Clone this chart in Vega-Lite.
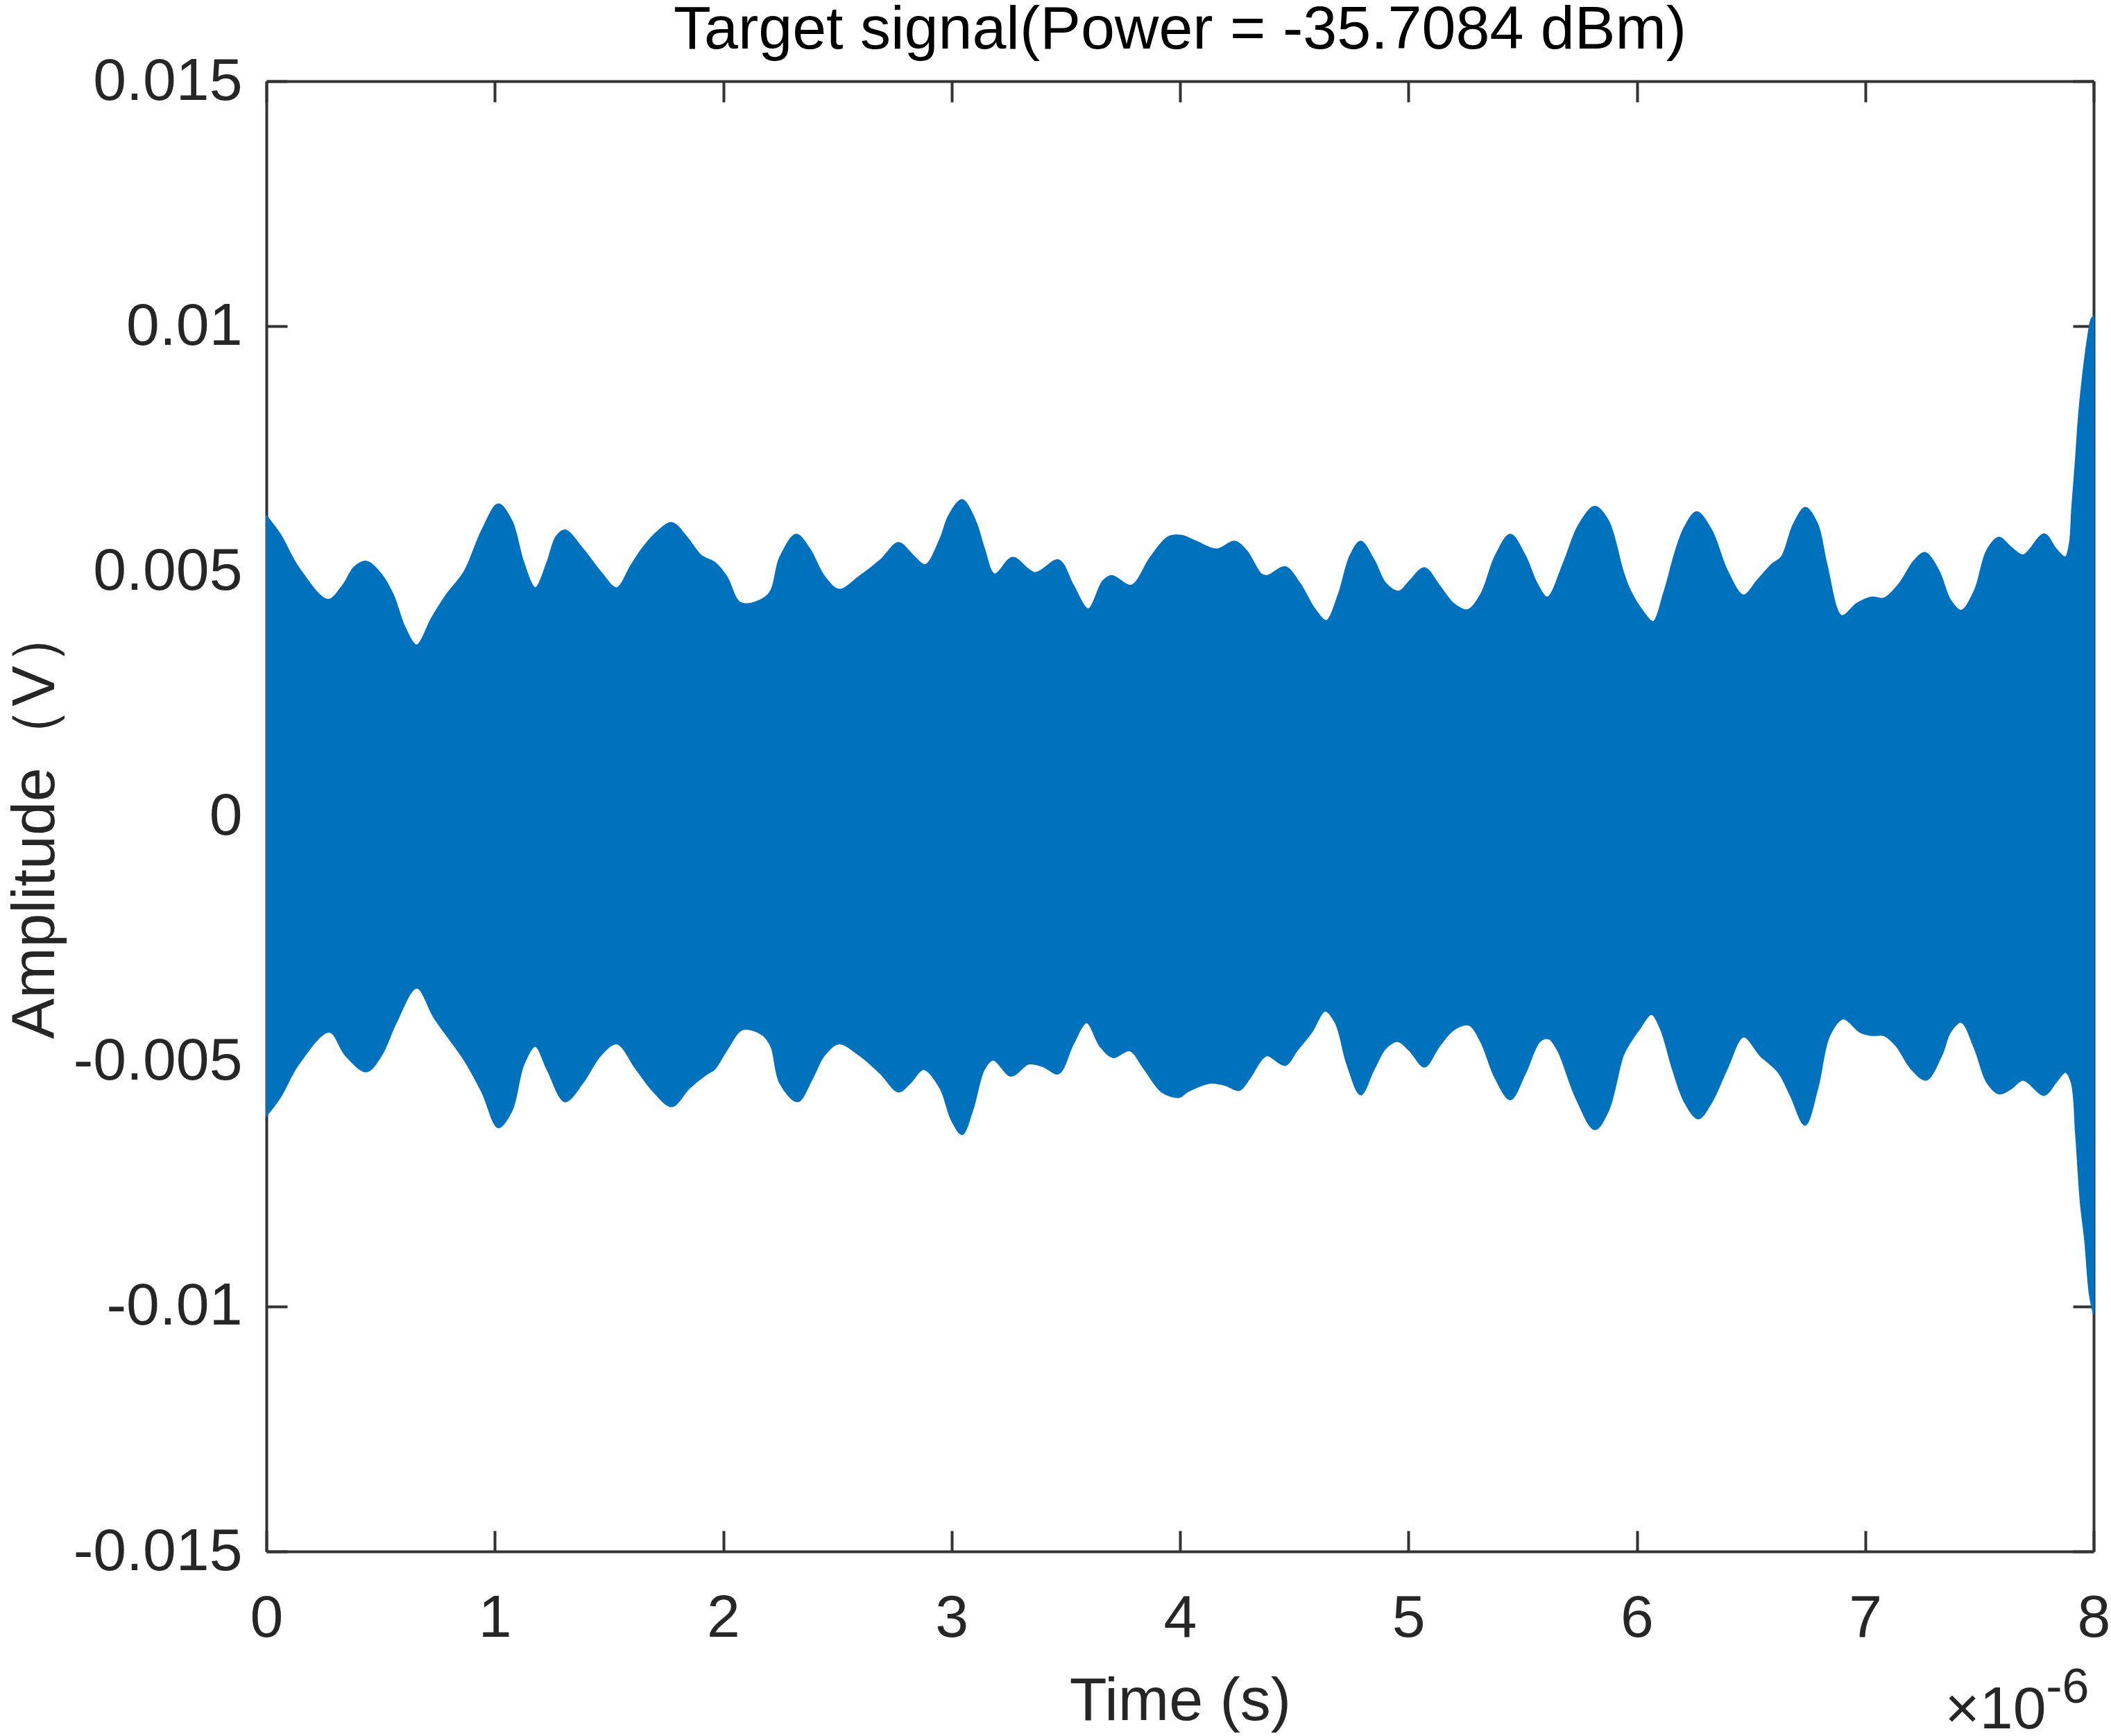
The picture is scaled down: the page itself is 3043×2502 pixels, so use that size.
{
  "$schema": "https://vega.github.io/schema/vega-lite/v6.json",
  "width": 2634,
  "height": 2119,
  "autosize": {"type": "none"},
  "padding": {"left": 384, "top": 117, "right": 25, "bottom": 266},
  "background": "white",
  "title": {"text": "Target signal(Power = -35.7084 dBm)", "fontSize": 88, "font": "Liberation Sans", "fontWeight": "normal", "color": "#000000", "baseline": "alphabetic", "offset": -84, "anchor": "middle", "frame": "group", "limit": 0},
  "datasets": {
    "upper": [
      {"t_us": 0, "amp": 0.00613}, {"t_us": 0.061, "amp": 0.00575}, {"t_us": 0.139, "amp": 0.00509}, {"t_us": 0.269, "amp": 0.00442},
      {"t_us": 0.334, "amp": 0.00471}, {"t_us": 0.386, "amp": 0.00509}, {"t_us": 0.438, "amp": 0.0052}, {"t_us": 0.503, "amp": 0.00494},
      {"t_us": 0.555, "amp": 0.00452}, {"t_us": 0.607, "amp": 0.00385}, {"t_us": 0.658, "amp": 0.00349}, {"t_us": 0.723, "amp": 0.00404},
      {"t_us": 0.788, "amp": 0.00452}, {"t_us": 0.866, "amp": 0.00499}, {"t_us": 0.944, "amp": 0.00584}, {"t_us": 1.015, "amp": 0.00637},
      {"t_us": 1.074, "amp": 0.00603}, {"t_us": 1.126, "amp": 0.00518}, {"t_us": 1.177, "amp": 0.00466}, {"t_us": 1.229, "amp": 0.00518},
      {"t_us": 1.268, "amp": 0.0057}, {"t_us": 1.307, "amp": 0.00584}, {"t_us": 1.385, "amp": 0.00546}, {"t_us": 1.463, "amp": 0.00499},
      {"t_us": 1.534, "amp": 0.00466}, {"t_us": 1.593, "amp": 0.00509}, {"t_us": 1.645, "amp": 0.00546}, {"t_us": 1.71, "amp": 0.0058},
      {"t_us": 1.775, "amp": 0.00599}, {"t_us": 1.84, "amp": 0.0057}, {"t_us": 1.904, "amp": 0.00532}, {"t_us": 1.962, "amp": 0.00518},
      {"t_us": 2.014, "amp": 0.0049}, {"t_us": 2.079, "amp": 0.00435}, {"t_us": 2.196, "amp": 0.00452}, {"t_us": 2.248, "amp": 0.00528},
      {"t_us": 2.319, "amp": 0.00575}, {"t_us": 2.378, "amp": 0.00546}, {"t_us": 2.442, "amp": 0.0049}, {"t_us": 2.507, "amp": 0.00463},
      {"t_us": 2.598, "amp": 0.0049}, {"t_us": 2.689, "amp": 0.00523}, {"t_us": 2.767, "amp": 0.00558}, {"t_us": 2.832, "amp": 0.00532},
      {"t_us": 2.884, "amp": 0.00513}, {"t_us": 2.949, "amp": 0.00565}, {"t_us": 2.987, "amp": 0.00613}, {"t_us": 3.046, "amp": 0.00646},
      {"t_us": 3.104, "amp": 0.00603}, {"t_us": 3.143, "amp": 0.00546}, {"t_us": 3.188, "amp": 0.00494}, {"t_us": 3.267, "amp": 0.00528},
      {"t_us": 3.364, "amp": 0.00497}, {"t_us": 3.468, "amp": 0.00523}, {"t_us": 3.533, "amp": 0.00471}, {"t_us": 3.598, "amp": 0.00423},
      {"t_us": 3.662, "amp": 0.0048}, {"t_us": 3.701, "amp": 0.00491}, {"t_us": 3.786, "amp": 0.00471}, {"t_us": 3.87, "amp": 0.00528},
      {"t_us": 3.948, "amp": 0.0057}, {"t_us": 4.005, "amp": 0.00573}, {"t_us": 4.07, "amp": 0.00561}, {"t_us": 4.161, "amp": 0.00545},
      {"t_us": 4.239, "amp": 0.00561}, {"t_us": 4.291, "amp": 0.00542}, {"t_us": 4.356, "amp": 0.00494}, {"t_us": 4.382, "amp": 0.00491},
      {"t_us": 4.46, "amp": 0.00509}, {"t_us": 4.525, "amp": 0.00475}, {"t_us": 4.59, "amp": 0.00423}, {"t_us": 4.641, "amp": 0.00399},
      {"t_us": 4.693, "amp": 0.00452}, {"t_us": 4.745, "amp": 0.00532}, {"t_us": 4.791, "amp": 0.00561}, {"t_us": 4.849, "amp": 0.00523},
      {"t_us": 4.901, "amp": 0.00475}, {"t_us": 4.959, "amp": 0.00459}, {"t_us": 5.005, "amp": 0.0048}, {"t_us": 5.07, "amp": 0.00507},
      {"t_us": 5.135, "amp": 0.00471}, {"t_us": 5.2, "amp": 0.00433}, {"t_us": 5.258, "amp": 0.00421}, {"t_us": 5.316, "amp": 0.00452},
      {"t_us": 5.381, "amp": 0.00532}, {"t_us": 5.446, "amp": 0.00575}, {"t_us": 5.511, "amp": 0.00532}, {"t_us": 5.563, "amp": 0.00475},
      {"t_us": 5.608, "amp": 0.00447}, {"t_us": 5.68, "amp": 0.00518}, {"t_us": 5.745, "amp": 0.00594}, {"t_us": 5.816, "amp": 0.00632},
      {"t_us": 5.875, "amp": 0.00603}, {"t_us": 5.94, "amp": 0.00499}, {"t_us": 5.971, "amp": 0.00461}, {"t_us": 6.024, "amp": 0.0042},
      {"t_us": 6.071, "amp": 0.00397}, {"t_us": 6.117, "amp": 0.00454}, {"t_us": 6.17, "amp": 0.00542}, {"t_us": 6.209, "amp": 0.0059},
      {"t_us": 6.262, "amp": 0.00621}, {"t_us": 6.328, "amp": 0.00583}, {"t_us": 6.395, "amp": 0.00502}, {"t_us": 6.467, "amp": 0.00451},
      {"t_us": 6.527, "amp": 0.00481}, {"t_us": 6.593, "amp": 0.00515}, {"t_us": 6.633, "amp": 0.00529}, {"t_us": 6.686, "amp": 0.00596},
      {"t_us": 6.738, "amp": 0.0063}, {"t_us": 6.791, "amp": 0.00596}, {"t_us": 6.831, "amp": 0.00515}, {"t_us": 6.897, "amp": 0.00409},
      {"t_us": 6.963, "amp": 0.00434}, {"t_us": 7.029, "amp": 0.00447}, {"t_us": 7.082, "amp": 0.00445}, {"t_us": 7.148, "amp": 0.00474},
      {"t_us": 7.215, "amp": 0.00522}, {"t_us": 7.261, "amp": 0.00538}, {"t_us": 7.321, "amp": 0.00502}, {"t_us": 7.373, "amp": 0.00441},
      {"t_us": 7.42, "amp": 0.0042}, {"t_us": 7.479, "amp": 0.00461}, {"t_us": 7.532, "amp": 0.00542}, {"t_us": 7.585, "amp": 0.00569},
      {"t_us": 7.638, "amp": 0.00549}, {"t_us": 7.691, "amp": 0.00533}, {"t_us": 7.783, "amp": 0.00576}, {"t_us": 7.836, "amp": 0.00545},
      {"t_us": 7.876, "amp": 0.00529}, {"t_us": 7.894, "amp": 0.00555}, {"t_us": 7.905, "amp": 0.0063}, {"t_us": 7.92, "amp": 0.0072},
      {"t_us": 7.935, "amp": 0.0082}, {"t_us": 7.955, "amp": 0.0091}, {"t_us": 7.975, "amp": 0.0098}, {"t_us": 7.99, "amp": 0.01015},
      {"t_us": 8, "amp": 0.0102}
    ],
    "lower": [
      {"t_us": 0, "amp": -0.00611}, {"t_us": 0.061, "amp": -0.00573}, {"t_us": 0.139, "amp": -0.00507}, {"t_us": 0.275, "amp": -0.0044},
      {"t_us": 0.347, "amp": -0.00488}, {"t_us": 0.438, "amp": -0.00521}, {"t_us": 0.503, "amp": -0.00488}, {"t_us": 0.568, "amp": -0.00421},
      {"t_us": 0.658, "amp": -0.0035}, {"t_us": 0.736, "amp": -0.00412}, {"t_us": 0.866, "amp": -0.00497}, {"t_us": 0.944, "amp": -0.00563},
      {"t_us": 1.015, "amp": -0.00635}, {"t_us": 1.074, "amp": -0.00601}, {"t_us": 1.126, "amp": -0.00507}, {"t_us": 1.177, "amp": -0.00469},
      {"t_us": 1.229, "amp": -0.00516}, {"t_us": 1.307, "amp": -0.00582}, {"t_us": 1.385, "amp": -0.00544}, {"t_us": 1.463, "amp": -0.00488},
      {"t_us": 1.534, "amp": -0.00464}, {"t_us": 1.619, "amp": -0.00516}, {"t_us": 1.697, "amp": -0.00563}, {"t_us": 1.775, "amp": -0.00592},
      {"t_us": 1.853, "amp": -0.00554}, {"t_us": 1.931, "amp": -0.00525}, {"t_us": 1.962, "amp": -0.00516}, {"t_us": 2.014, "amp": -0.00478},
      {"t_us": 2.085, "amp": -0.00435}, {"t_us": 2.17, "amp": -0.00445}, {"t_us": 2.209, "amp": -0.00469}, {"t_us": 2.248, "amp": -0.00544},
      {"t_us": 2.326, "amp": -0.00582}, {"t_us": 2.39, "amp": -0.00535}, {"t_us": 2.442, "amp": -0.00488}, {"t_us": 2.507, "amp": -0.00464},
      {"t_us": 2.598, "amp": -0.00488}, {"t_us": 2.689, "amp": -0.00525}, {"t_us": 2.767, "amp": -0.00562}, {"t_us": 2.819, "amp": -0.00544},
      {"t_us": 2.877, "amp": -0.00516}, {"t_us": 2.949, "amp": -0.00554}, {"t_us": 3.0, "amp": -0.0062}, {"t_us": 3.046, "amp": -0.00649},
      {"t_us": 3.091, "amp": -0.00601}, {"t_us": 3.143, "amp": -0.00516}, {"t_us": 3.182, "amp": -0.00497}, {"t_us": 3.26, "amp": -0.0053},
      {"t_us": 3.338, "amp": -0.00505}, {"t_us": 3.403, "amp": -0.00511}, {"t_us": 3.468, "amp": -0.00525}, {"t_us": 3.533, "amp": -0.00464},
      {"t_us": 3.591, "amp": -0.00421}, {"t_us": 3.65, "amp": -0.00469}, {"t_us": 3.708, "amp": -0.00492}, {"t_us": 3.779, "amp": -0.00478},
      {"t_us": 3.844, "amp": -0.00516}, {"t_us": 3.922, "amp": -0.00563}, {"t_us": 3.997, "amp": -0.00573}, {"t_us": 4.032, "amp": -0.00562},
      {"t_us": 4.136, "amp": -0.00544}, {"t_us": 4.2, "amp": -0.00549}, {"t_us": 4.259, "amp": -0.00559}, {"t_us": 4.304, "amp": -0.00535},
      {"t_us": 4.356, "amp": -0.00497}, {"t_us": 4.382, "amp": -0.00488}, {"t_us": 4.46, "amp": -0.00508}, {"t_us": 4.512, "amp": -0.00478},
      {"t_us": 4.577, "amp": -0.0044}, {"t_us": 4.635, "amp": -0.00397}, {"t_us": 4.68, "amp": -0.00421}, {"t_us": 4.732, "amp": -0.00507},
      {"t_us": 4.791, "amp": -0.00568}, {"t_us": 4.849, "amp": -0.00516}, {"t_us": 4.901, "amp": -0.00473}, {"t_us": 4.953, "amp": -0.00459},
      {"t_us": 5.005, "amp": -0.00478}, {"t_us": 5.07, "amp": -0.00511}, {"t_us": 5.135, "amp": -0.00469}, {"t_us": 5.2, "amp": -0.00435},
      {"t_us": 5.265, "amp": -0.00426}, {"t_us": 5.316, "amp": -0.00459}, {"t_us": 5.381, "amp": -0.00535}, {"t_us": 5.446, "amp": -0.00578},
      {"t_us": 5.511, "amp": -0.00525}, {"t_us": 5.576, "amp": -0.00459}, {"t_us": 5.615, "amp": -0.00454}, {"t_us": 5.654, "amp": -0.00478},
      {"t_us": 5.732, "amp": -0.00573}, {"t_us": 5.816, "amp": -0.00639}, {"t_us": 5.875, "amp": -0.00601}, {"t_us": 5.94, "amp": -0.00488},
      {"t_us": 5.971, "amp": -0.00461}, {"t_us": 6.011, "amp": -0.00434}, {"t_us": 6.064, "amp": -0.00404}, {"t_us": 6.104, "amp": -0.00434},
      {"t_us": 6.156, "amp": -0.00515}, {"t_us": 6.209, "amp": -0.00583}, {"t_us": 6.269, "amp": -0.00617}, {"t_us": 6.328, "amp": -0.00583},
      {"t_us": 6.395, "amp": -0.00515}, {"t_us": 6.467, "amp": -0.0045}, {"t_us": 6.54, "amp": -0.00488}, {"t_us": 6.619, "amp": -0.00522},
      {"t_us": 6.672, "amp": -0.00569}, {"t_us": 6.736, "amp": -0.0063}, {"t_us": 6.791, "amp": -0.00556}, {"t_us": 6.844, "amp": -0.00447},
      {"t_us": 6.904, "amp": -0.00413}, {"t_us": 6.977, "amp": -0.0044}, {"t_us": 7.029, "amp": -0.00447}, {"t_us": 7.082, "amp": -0.00447},
      {"t_us": 7.135, "amp": -0.00468}, {"t_us": 7.201, "amp": -0.00515}, {"t_us": 7.267, "amp": -0.00538}, {"t_us": 7.334, "amp": -0.00488},
      {"t_us": 7.373, "amp": -0.0044}, {"t_us": 7.42, "amp": -0.0042}, {"t_us": 7.479, "amp": -0.00474}, {"t_us": 7.532, "amp": -0.00542},
      {"t_us": 7.585, "amp": -0.00566}, {"t_us": 7.638, "amp": -0.00556}, {"t_us": 7.691, "amp": -0.00538}, {"t_us": 7.783, "amp": -0.00569},
      {"t_us": 7.836, "amp": -0.00542}, {"t_us": 7.876, "amp": -0.00522}, {"t_us": 7.902, "amp": -0.00542}, {"t_us": 7.922, "amp": -0.0065},
      {"t_us": 7.942, "amp": -0.00786}, {"t_us": 7.962, "amp": -0.00867}, {"t_us": 7.982, "amp": -0.00976}, {"t_us": 8, "amp": -0.01016}
    ]
  },
  "config": {
    "view": {"stroke": null},
    "axis": {
      "grid": false,
      "domainColor": "#333333",
      "domainWidth": 4,
      "tickColor": "#333333",
      "tickWidth": 4,
      "tickSize": -30,
      "labelFont": "Liberation Sans",
      "labelFontSize": 86,
      "labelColor": "#262626",
      "labelFlush": false,
      "labelOverlap": false,
      "labelLimit": 600,
      "titleFont": "Liberation Sans",
      "titleFontSize": 88,
      "titleColor": "#262626",
      "titleFontWeight": "normal",
      "titleLimit": 0
    }
  },
  "layer": [
    {
      "data": {"name": "upper"},
      "mark": {"type": "area", "color": "#0072BD", "stroke": "#0072BD", "strokeWidth": 2, "interpolate": "catmull-rom"},
      "encoding": {
        "x": {
          "field": "t_us", "type": "quantitative",
          "scale": {"domain": [0, 8], "nice": false, "zero": false},
          "axis": {"orient": "bottom", "values": [0, 1, 2, 3, 4, 5, 6, 7, 8], "labelPadding": 84, "title": "Time (s)", "titleBaseline": "alphabetic", "titleY": 242}
        },
        "y": {
          "field": "amp", "type": "quantitative",
          "scale": {"domain": [-0.015, 0.015], "nice": false, "zero": false},
          "axis": {"orient": "left", "values": [-0.015, -0.01, -0.005, 0, 0.005, 0.01, 0.015], "labelExpr": "replace(format(datum.value, '~g'), '−', '-')", "labelPadding": 65, "title": "Amplitude（V）", "titleBaseline": "alphabetic", "titleAngle": -90, "titleX": -307, "titleY": 1067, "titleAlign": "center"}
        },
        "y2": {"datum": 0}
      }
    },
    {
      "data": {"name": "lower"},
      "mark": {"type": "area", "color": "#0072BD", "stroke": "#0072BD", "strokeWidth": 2, "interpolate": "catmull-rom"},
      "encoding": {
        "x": {
          "field": "t_us", "type": "quantitative",
          "scale": {"domain": [0, 8], "nice": false, "zero": false},
          "axis": {"orient": "top", "values": [0, 1, 2, 3, 4, 5, 6, 7, 8], "labels": false, "title": "×10", "titleFontSize": 86, "titleAlign": "right", "titleBaseline": "alphabetic", "titleX": 2565, "titleY": 2373, "titleAngle": 0}
        },
        "y": {
          "field": "amp", "type": "quantitative",
          "scale": {"domain": [-0.015, 0.015], "nice": false, "zero": false},
          "axis": {"orient": "right", "values": [-0.015, -0.01, -0.005, 0, 0.005, 0.01, 0.015], "labels": false, "title": "-6", "titleFontSize": 70, "titleAngle": 0, "titleAlign": "right", "titleBaseline": "alphabetic", "titleX": -7, "titleY": 2336}
        },
        "y2": {"datum": 0}
      }
    }
  ],
  "resolve": {"axis": {"x": "independent", "y": "independent"}}
}
